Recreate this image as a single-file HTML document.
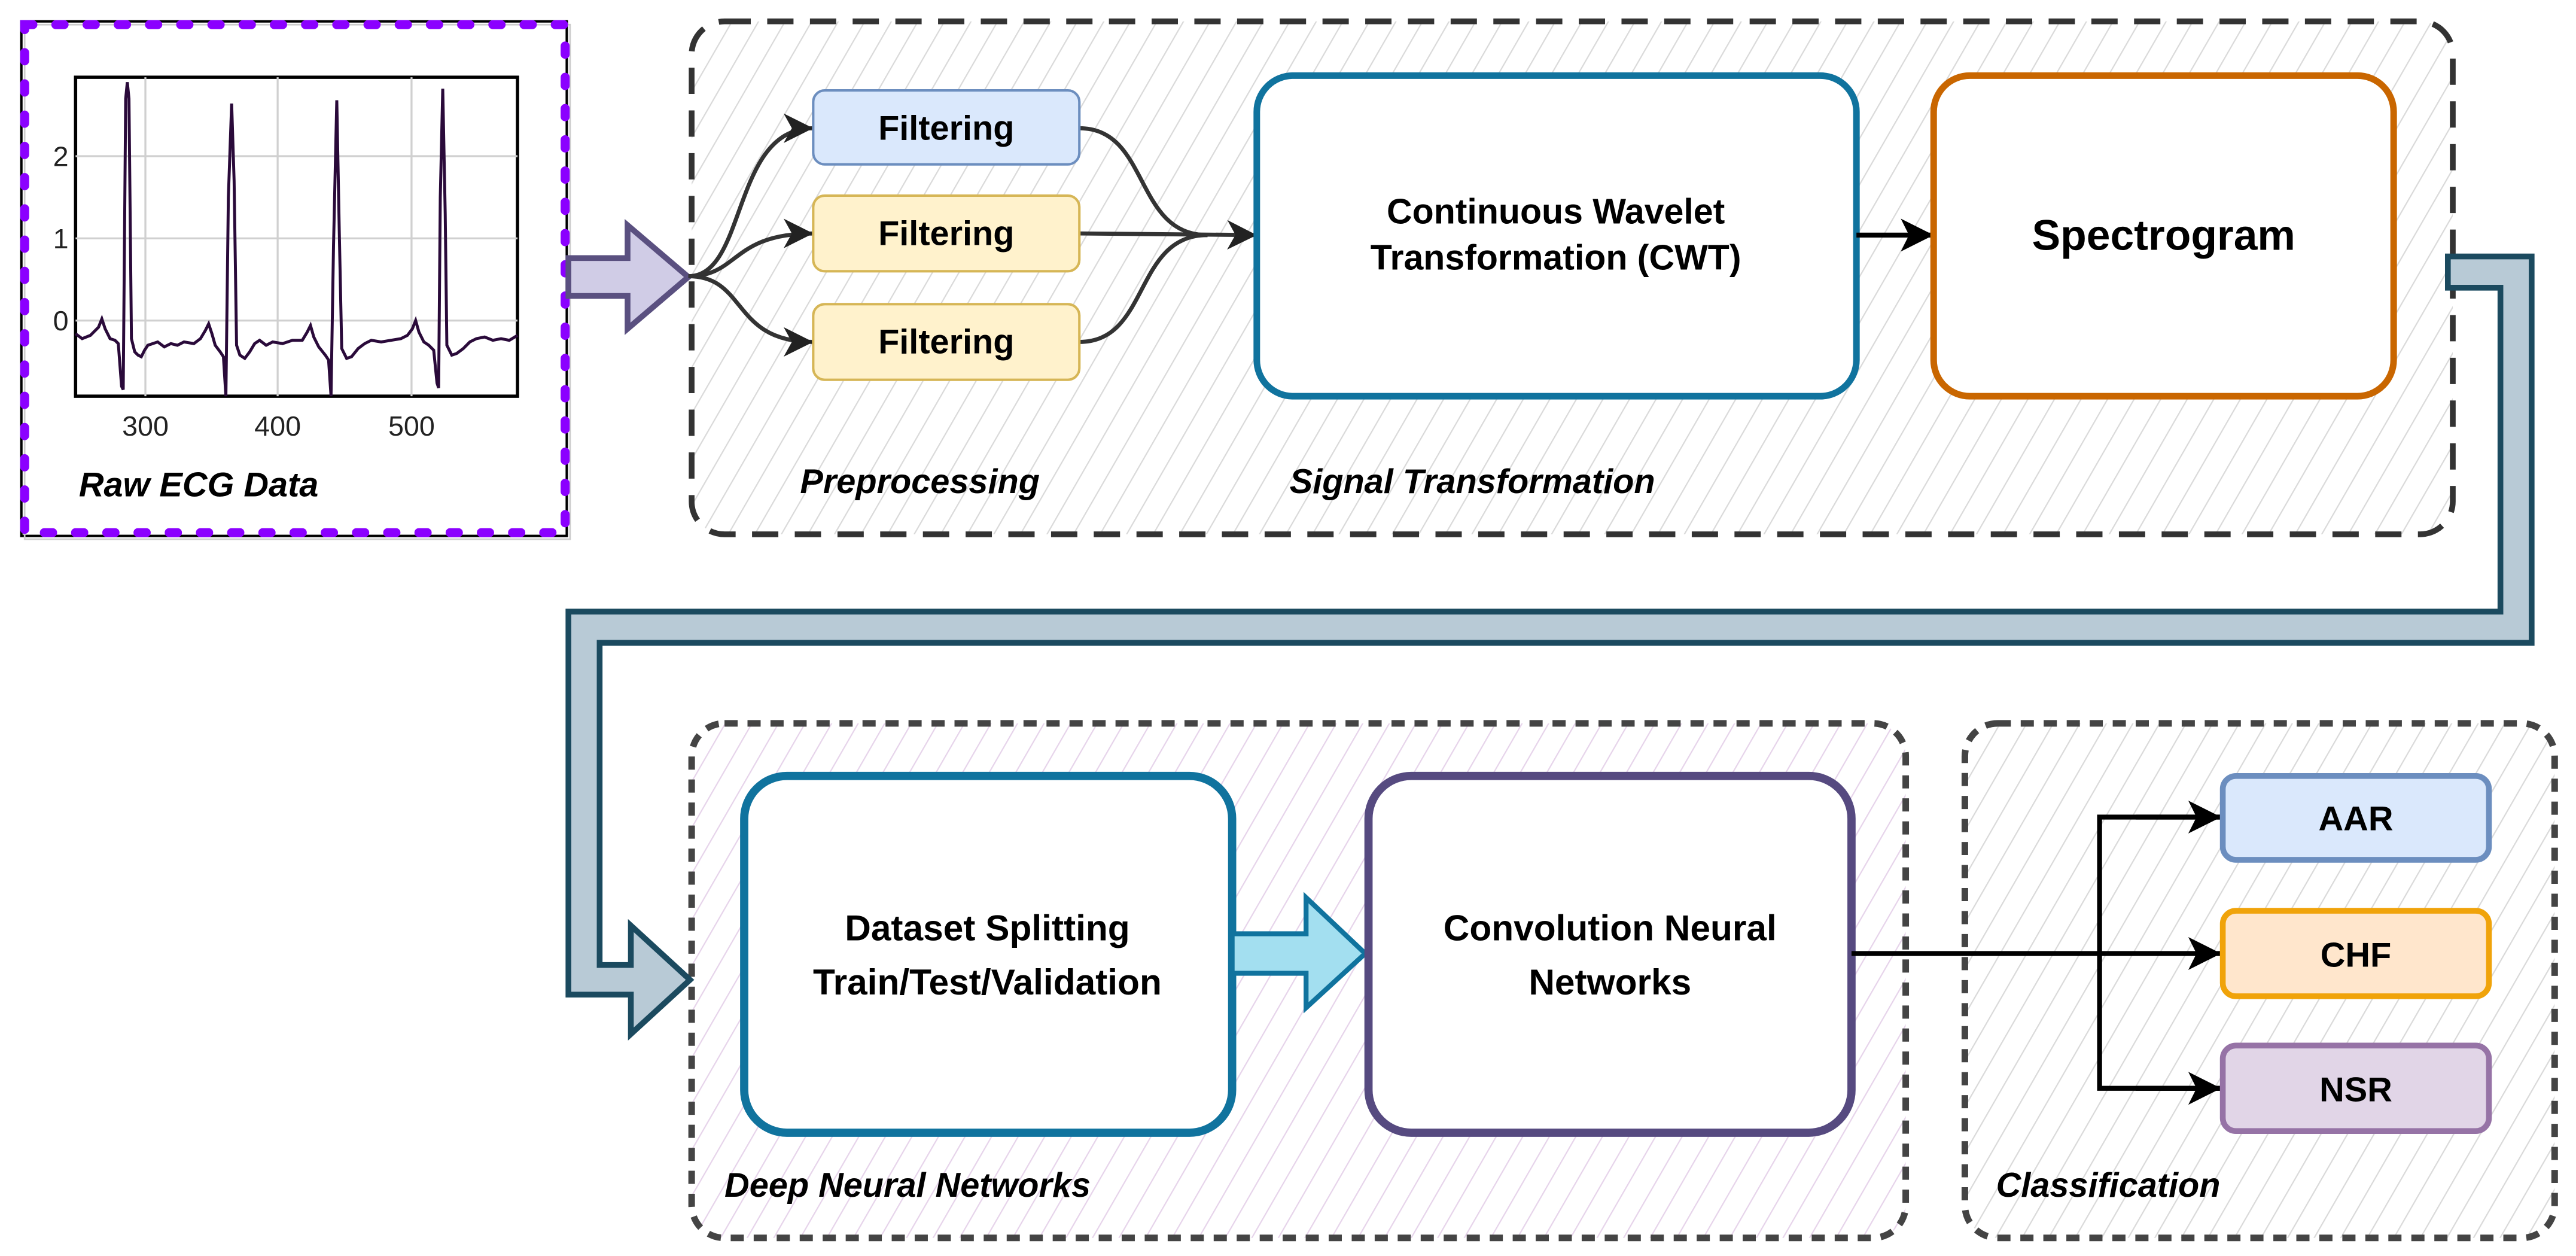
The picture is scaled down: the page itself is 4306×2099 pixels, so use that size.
<!DOCTYPE html>
<html><head><meta charset="utf-8"><style>
html,body{margin:0;padding:0;background:#fff;}
svg{display:block;}
text{font-family:"Liberation Sans",Arial,sans-serif;}
</style></head><body>
<svg width="4306" height="2099" viewBox="0 0 1568 764" preserveAspectRatio="none" xmlns="http://www.w3.org/2000/svg">
<defs>
<pattern id="hg" width="14" height="14" patternUnits="userSpaceOnUse" patternTransform="rotate(30)">
<line x1="0" y1="0" x2="0" y2="14" stroke="#d9d9d9" stroke-width="1.6"/></pattern>
<pattern id="hp" width="14" height="14" patternUnits="userSpaceOnUse" patternTransform="rotate(30)">
<line x1="0" y1="0" x2="0" y2="14" stroke="#e6d3ea" stroke-width="1.6"/></pattern>
<marker id="ah" markerUnits="userSpaceOnUse" markerWidth="24" markerHeight="24" refX="20" refY="12" orient="auto">
<path d="M2,3 L20,12 L2,21 L7,12 Z" fill="#222"/></marker>
<marker id="ah2" markerUnits="userSpaceOnUse" markerWidth="26" markerHeight="26" refX="22" refY="13" orient="auto">
<path d="M2,3 L22,13 L2,23 L7,13 Z" fill="#000"/></marker>
</defs>

<rect x="13" y="13" width="332" height="313" fill="#fff" stroke="#000" stroke-width="1.5"/>
<rect x="15" y="15" width="332" height="313" fill="none" stroke="#ccc" stroke-width="1"/>
<rect x="46" y="47" width="269" height="194" fill="#fff" stroke="#000" stroke-width="2"/>
<g stroke="#d0d0d0" stroke-width="1.2">
<line x1="88.5" y1="47" x2="88.5" y2="241"/><line x1="169" y1="47" x2="169" y2="241"/><line x1="250.5" y1="47" x2="250.5" y2="241"/>
<line x1="46" y1="95" x2="315" y2="95"/><line x1="46" y1="145" x2="315" y2="145"/><line x1="46" y1="195" x2="315" y2="195"/>
</g>
<g font-family="Liberation Serif,serif" font-size="17" fill="#222">
<text x="37" y="101" text-anchor="middle">2</text><text x="37" y="151" text-anchor="middle">1</text><text x="37" y="201" text-anchor="middle">0</text>
<text x="88.5" y="265" text-anchor="middle">300</text><text x="169" y="265" text-anchor="middle">400</text><text x="250.5" y="265" text-anchor="middle">500</text>
</g>
<polyline fill="none" stroke="#2a0a3a" stroke-width="1.8" points="46,203 50,206 55,204 58,201 60,199 62,194 64,200 67,206 70,207 72,209 74,235 75,237 76.5,60 77.5,50 78.5,60 80,206 82,214 84,216 86,217 88,213 90,210 93,209 96,208 100,211 104,209 108,210 112,208 118,209 122,206 125,201 127,197 129,203 131,210 134,214 136,217 137.5,241 139,120 141,63 142.5,110 144,210 146,216 149,218 152,214 155,209 158,207 162,210 166,208 172,209 178,207 184,207 187,202 189,198 191,205 194,211 198,216 200,219 201.5,241 203,150 205,61 206.5,140 208,212 211,218 214,217 218,212 222,209 226,207 232,208 238,207 244,206 248,204 251,200 253,195 255,202 258,208 261,210 264,213 266,233 267,236 268,120 269.5,54 271,130 272,210 275,216 278,215 282,212 286,208 290,206 295,205 300,207 305,206 310,207 315,204"/>
<text x="48" y="302" font-size="21" font-weight="bold" font-style="italic" fill="#000">Raw ECG Data</text>
<rect x="15" y="15" width="329" height="309" fill="none" stroke="#8b00ff" stroke-width="5.5" stroke-dasharray="5,14" stroke-linecap="round"/>

<rect x="421" y="13" width="1072" height="312" rx="20" fill="url(#hg)" stroke="#333" stroke-width="3.5" stroke-dasharray="16,10"/>
<polygon points="346,157 382,157 382,137 419,168.5 382,200 382,180 346,180" fill="#d0cce6" stroke="#5a5080" stroke-width="3.5" stroke-linejoin="miter"/>

<g fill="none" stroke="#333" stroke-width="2.5">
<path d="M419,168 C455,168 445,78 495,78" marker-end="url(#ah)"/>
<path d="M419,168 C450,168 445,142 495,142" marker-end="url(#ah)"/>
<path d="M419,168 C455,168 445,208 495,208" marker-end="url(#ah)"/>
<path d="M657,78 C700,78 690,143 735,143"/>
<path d="M657,208 C700,208 690,143 735,143"/>
<path d="M657,142 L765,143" marker-end="url(#ah)"/>
</g>
<rect x="495" y="55" width="162" height="45" rx="7" fill="#dae8fc" stroke="#6c8ebf" stroke-width="1.5"/>
<rect x="495" y="119" width="162" height="46" rx="7" fill="#fff2cc" stroke="#d6b656" stroke-width="1.5"/>
<rect x="495" y="185" width="162" height="46" rx="7" fill="#fff2cc" stroke="#d6b656" stroke-width="1.5"/>
<g font-size="21" font-weight="bold" text-anchor="middle" fill="#000">
<text x="576" y="85">Filtering</text><text x="576" y="149">Filtering</text><text x="576" y="215">Filtering</text>
</g>

<rect x="765" y="46" width="365" height="195" rx="22" fill="#fff" stroke="#10739e" stroke-width="4"/>
<g font-size="21.5" font-weight="bold" text-anchor="middle" fill="#000">
<text x="947" y="136">Continuous Wavelet</text><text x="947" y="164">Transformation (CWT)</text></g>
<line x1="1130" y1="143" x2="1177" y2="143" stroke="#000" stroke-width="3" marker-end="url(#ah2)"/>
<rect x="1177" y="46" width="280" height="195" rx="22" fill="#fff" stroke="#c96600" stroke-width="4"/>
<text x="1317" y="152" font-size="26" font-weight="bold" text-anchor="middle" fill="#000">Spectrogram</text>
<g font-size="21" font-weight="bold" font-style="italic" fill="#000">
<text x="487" y="300">Preprocessing</text><text x="785" y="300">Signal Transformation</text></g>

<rect x="421" y="440" width="739" height="313" rx="20" fill="url(#hp)" stroke="#444" stroke-width="4" stroke-dasharray="8,6"/>
<rect x="1196" y="440" width="359" height="313" rx="20" fill="url(#hg)" stroke="#444" stroke-width="4" stroke-dasharray="8,6"/>

<polygon points="1490,156 1541,156 1541,391 365,391 365,587 384,587 384,563 420,596 384,629 384,605 346,605 346,372 1522,372 1522,175 1490,175" fill="#b8cad6" stroke="#1b4a5f" stroke-width="3.5" stroke-linejoin="miter"/>

<rect x="453" y="472" width="297" height="217" rx="26" fill="#fff" stroke="#10739e" stroke-width="5"/>
<g font-size="22" font-weight="bold" text-anchor="middle" fill="#000">
<text x="601" y="572">Dataset Splitting</text><text x="601" y="605">Train/Test/Validation</text></g>
<polygon points="750,568 795,568 795,546 831,580 795,613 795,592 750,592" fill="#a3dff0" stroke="#10739e" stroke-width="3"/>
<rect x="833" y="472" width="294" height="217" rx="26" fill="#fff" stroke="#564a80" stroke-width="5"/>
<g font-size="22" font-weight="bold" text-anchor="middle" fill="#000">
<text x="980" y="572">Convolution Neural</text><text x="980" y="605">Networks</text></g>

<g fill="none" stroke="#000" stroke-width="3">
<line x1="1127" y1="580" x2="1352" y2="580" marker-end="url(#ah2)"/>
<polyline points="1352,497 1278,497 1278,662 1352,662"/>
<line x1="1300" y1="497" x2="1352" y2="497" marker-end="url(#ah2)"/>
<line x1="1300" y1="662" x2="1352" y2="662" marker-end="url(#ah2)"/>
</g>
<rect x="1353" y="472" width="162" height="51" rx="8" fill="#dae8fc" stroke="#6c8ebf" stroke-width="3.5"/>
<rect x="1353" y="554" width="162" height="52" rx="8" fill="#ffe6cc" stroke="#f0a30a" stroke-width="3.5"/>
<rect x="1353" y="636" width="162" height="52" rx="8" fill="#e1d5e7" stroke="#9673a6" stroke-width="3.5"/>
<g font-size="21" font-weight="bold" text-anchor="middle" fill="#000">
<text x="1434" y="505">AAR</text><text x="1434" y="588">CHF</text><text x="1434" y="670">NSR</text></g>
<g font-size="21" font-weight="bold" font-style="italic" fill="#000">
<text x="441" y="728">Deep Neural Networks</text><text x="1215" y="728">Classification</text></g>
</svg>
</body></html>
